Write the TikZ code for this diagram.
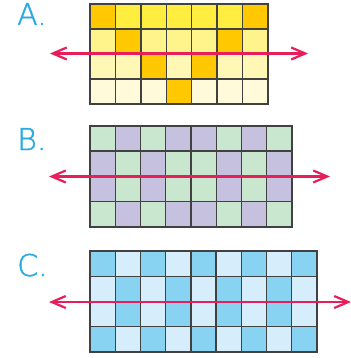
\documentclass[tikz,border=0pt]{standalone}
\usepackage{fontspec}
\setmainfont{Liberation Sans}
\newfontfamily\thinfont[FakeBold=1.5]{DejaVuSans-ExtraLight.ttf}
\usetikzlibrary{arrows.meta}

\definecolor{gridgray}{RGB}{65,65,65}
\definecolor{axisred}{RGB}{232,30,90}
\definecolor{labelblue}{RGB}{41,171,226}
\definecolor{yDark}{RGB}{255,200,0}
\definecolor{yOne}{RGB}{255,238,64}
\definecolor{yTwo}{RGB}{255,243,140}
\definecolor{yThree}{RGB}{255,247,181}
\definecolor{yFour}{RGB}{255,250,217}
\definecolor{gGreen}{RGB}{201,230,207}
\definecolor{gPurple}{RGB}{198,193,223}
\definecolor{bDark}{RGB}{137,211,242}
\definecolor{bLight}{RGB}{214,238,251}

\begin{document}
\begin{tikzpicture}[x=1pt,y=-1pt,
  cell/.style={draw=gridgray,line width=1.4pt},
  axis/.style={draw=axisred,line width=2.2pt,{Straight Barb[length=14pt,width=12pt]}-{Straight Barb[length=14pt,width=12pt]}},
  letter/.style={text=labelblue,font=\thinfont\fontsize{30}{30}\selectfont,anchor=base west,inner sep=0pt}]
  \useasboundingbox (0,0) rectangle (350,358);

  % A: 7 x 4
  \foreach \row [count=\j from 0] in {{yDark,yOne,yOne,yOne,yOne,yOne,yDark},{yTwo,yDark,yTwo,yTwo,yTwo,yDark,yTwo},{yThree,yThree,yDark,yThree,yDark,yThree,yThree},{yFour,yFour,yFour,yDark,yFour,yFour,yFour}}
    \foreach \c [count=\i from 0] in \row
      \draw[cell,fill=\c] (90+25.4*\i,4+25*\j) rectangle ++(25.4,25);

  % B: 8 x 4
  \foreach \row [count=\j from 0] in {{gGreen,gPurple,gGreen,gPurple,gPurple,gGreen,gPurple,gGreen},{gPurple,gGreen,gPurple,gGreen,gGreen,gPurple,gGreen,gPurple},{gPurple,gGreen,gPurple,gGreen,gGreen,gPurple,gGreen,gPurple},{gGreen,gPurple,gGreen,gPurple,gPurple,gGreen,gPurple,gGreen}}
    \foreach \c [count=\i from 0] in \row
      \draw[cell,fill=\c] (90+25.25*\i,126+25.2*\j) rectangle ++(25.25,25.2);

  % C: 9 x 4
  \foreach \row [count=\j from 0] in {{bDark,bLight,bDark,bLight,bDark,bLight,bDark,bLight,bDark},{bLight,bDark,bLight,bDark,bLight,bDark,bLight,bDark,bLight},{bLight,bDark,bLight,bDark,bLight,bDark,bLight,bDark,bLight},{bDark,bLight,bDark,bLight,bDark,bLight,bDark,bLight,bDark}}
    \foreach \c [count=\i from 0] in \row
      \draw[cell,fill=\c] (90+25.2*\i,251+25.2*\j) rectangle ++(25.2,25.2);

  \node[letter] (labA) at (17,25) {A.};
  \node[letter] (labB) at (17,150) {B.};
  \node[letter] (labC) at (17,276) {C.};

  \coordinate (aL) at (50,53.5);
  \coordinate (aR) at (308,53.5);
  \coordinate (bL) at (49,176.5);
  \coordinate (bR) at (330,176.5);
  \coordinate (cL) at (49,302);
  \coordinate (cR) at (351,302);
  \draw[axis] (aL) -- (aR);
  \draw[axis] (bL) -- (bR);
  \draw[axis] (cL) -- (cR);
\end{tikzpicture}
\end{document}
